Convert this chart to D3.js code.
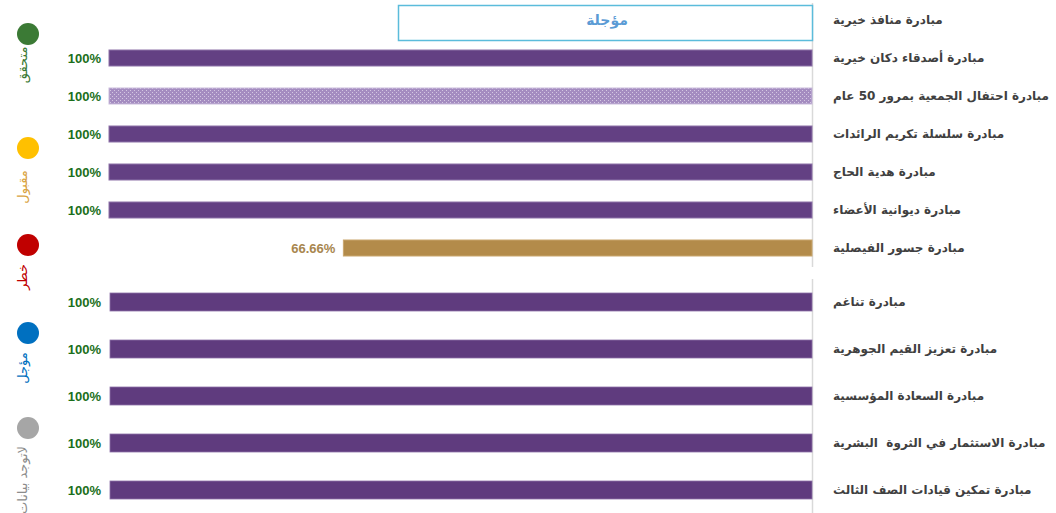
<!DOCTYPE html>
<html>
<head>
<meta charset="utf-8">
<script src="https://cdn.jsdelivr.net/npm/d3@7"></script>
<style>
  body { margin: 0; background: #fff; }
  svg { display: block; }
  .lbl { white-space: pre; }
</style>
</head>
<body>
<svg id="chart"></svg>
<script>
// chart data
var upperLabels = [
	'مبادرة منافذ خيرية',
	'مبادرة أصدقاء دكان خيرية',
	'مبادرة احتفال الجمعية بمرور 50 عام',
	'مبادرة سلسلة تكريم الرائدات',
	'مبادرة هدية الحاج',
	'مبادرة ديوانية الأعضاء',
	'مبادرة جسور الفيصلية'
];
var upperValues = [null, 1, 1, 1, 1, 1, 0.6666];
var upperStatus = ['postponed', 'done', 'done', 'done', 'done', 'done', 'acceptable'];
var upperValueText = ['', '100%', '100%', '100%', '100%', '100%', '66.66%'];

var lowerLabels = [
	'مبادرة تناغم',
	'مبادرة تعزيز القيم الجوهرية',
	'مبادرة السعادة المؤسسية',
	'مبادرة الاستثمار في الثروة  البشرية',
	'مبادرة تمكين قيادات الصف الثالث'
];
var lowerValues = [1, 1, 1, 1, 1];
var lowerValueText = ['100%', '100%', '100%', '100%', '100%'];

var legendNames = ['متحقق', 'مقبول', 'خطر', 'مؤجل', 'لاتوجد بيانات'];
var postponedText = 'مؤجلة';

// layout constants
var width = 1056,
	height = 513,
	axisX = 812,
	labelX = 833,
	arabicFont = '"DejaVu Sans", sans-serif',
	numFont = '"Liberation Sans", Arial, sans-serif';

var legendColors = ['#3b7a35', '#ffc000', '#c00000', '#0070c0', '#a6a6a6'];
var legendTextColors = ['#3b7a35', '#d9a343', '#c00000', '#0070c0', '#8c8c8c'];
var legendCircleY = [34, 148, 245, 333, 428];
var legendTextY = [65, 187, 277, 368, 480];

var svg = d3.select('#chart')
	.attr('width', width)
	.attr('height', height);

// dotted pattern for the lighter bar
var defs = svg.append('defs');
var pat = defs.append('pattern')
	.attr('id', 'dots')
	.attr('patternUnits', 'userSpaceOnUse')
	.attr('width', 4)
	.attr('height', 4);
pat.append('rect').attr('width', 4).attr('height', 4).attr('fill', '#a48cc0');
pat.append('rect').attr('x', 0).attr('y', 0).attr('width', 1).attr('height', 1).attr('fill', '#d4c7e2');
pat.append('rect').attr('x', 2).attr('y', 2).attr('width', 1).attr('height', 1).attr('fill', '#d4c7e2');

var barColor = {
	done: '#634083',
	acceptable: '#b38b4a'
};
var valueColor = {
	done: '#1b6f1b',
	acceptable: '#a8864e'
};

/* --- upper panel --- */
var xUp = d3.scaleLinear().domain([0, 1]).range([axisX, 109]);
var yUp = d3.scaleBand()
	.domain(d3.range(upperLabels.length))
	.range([1, 267])
	.paddingInner(0.56)
	.paddingOuter(0.28);

svg.append('line')
	.attr('x1', axisX + 0.5).attr('x2', axisX + 0.5)
	.attr('y1', 3).attr('y2', 267)
	.attr('stroke', '#d9d9d9')
	.attr('stroke-width', 1.5);

var upRows = svg.append('g').selectAll('g')
	.data(d3.range(upperLabels.length))
	.enter().append('g');

upRows.filter(function(i) { return upperValues[i] !== null; })
	.append('rect')
		.attr('x', function(i) { return xUp(upperValues[i]); })
		.attr('y', function(i) { return yUp(i) + yUp.bandwidth() / 2 - 8; })
		.attr('width', function(i) { return axisX - xUp(upperValues[i]); })
		.attr('height', 16)
		.attr('fill', function(i) { return i === 2 ? 'url(#dots)' : barColor[upperStatus[i]]; })
		.attr('stroke', function(i) { return i === 2 ? '#c9bbdb' : (upperStatus[i] === 'done' ? '#8d72a8' : '#c9a66d'); })
		.attr('stroke-width', 1);

upRows.filter(function(i) { return upperValues[i] !== null; })
	.append('text')
		.attr('x', function(i) { return xUp(upperValues[i]) - 8; })
		.attr('y', function(i) { return yUp(i) + yUp.bandwidth() / 2; })
		.attr('dy', '0.35em')
		.attr('text-anchor', 'end')
		.attr('font-family', numFont)
		.attr('font-weight', 'bold')
		.attr('font-size', 13)
		.attr('fill', function(i) { return valueColor[upperStatus[i]]; })
		.text(function(i) { return upperValueText[i]; });

// postponed box
upRows.filter(function(i) { return upperValues[i] === null; })
	.each(function(i) {
		var g = d3.select(this);
		var cy = yUp(i) + yUp.bandwidth() / 2;
		g.append('rect')
			.attr('x', 398.5)
			.attr('y', cy - 14.5)
			.attr('width', axisX - 398)
			.attr('height', 35)
			.attr('fill', '#fff')
			.attr('stroke', '#5bbcdb')
			.attr('stroke-width', 1.5);
		g.append('text')
			.attr('x', 607)
			.attr('y', cy)
			.attr('dy', '0.35em')
			.attr('text-anchor', 'middle')
			.attr('font-family', arabicFont)
			.attr('font-weight', 'bold')
			.attr('font-size', 14)
			.attr('fill', '#5b9bd5')
			.text(postponedText);
	});

upRows.append('text')
	.attr('class', 'lbl')
	.attr('x', labelX)
	.attr('y', function(i) { return yUp(i) + yUp.bandwidth() / 2; })
	.attr('dy', '0.35em')
	.attr('direction', 'rtl')
	.attr('text-anchor', 'end')
	.attr('font-family', arabicFont)
	.attr('font-weight', 'bold')
	.attr('font-size', 12)
	.attr('fill', '#404040')
	.text(function(i) { return upperLabels[i]; });

/* --- lower panel --- */
var xLow = d3.scaleLinear().domain([0, 1]).range([axisX, 110]);
var yLow = d3.scaleBand()
	.domain(d3.range(lowerLabels.length))
	.range([278.5, 513.5])
	.paddingInner(0.62)
	.paddingOuter(0.31);

svg.append('line')
	.attr('x1', axisX + 0.5).attr('x2', axisX + 0.5)
	.attr('y1', 279).attr('y2', height)
	.attr('stroke', '#d9d9d9')
	.attr('stroke-width', 1.5);

var lowRows = svg.append('g').selectAll('g')
	.data(d3.range(lowerLabels.length))
	.enter().append('g');

lowRows.append('rect')
	.attr('x', function(i) { return xLow(lowerValues[i]); })
	.attr('y', function(i) { return yLow(i) + yLow.bandwidth() / 2 - 9; })
	.attr('width', function(i) { return axisX - xLow(lowerValues[i]); })
	.attr('height', 18)
	.attr('fill', '#5f3b7e')
	.attr('stroke', '#8d72a8')
	.attr('stroke-width', 0.8);

lowRows.append('text')
	.attr('x', function(i) { return xLow(lowerValues[i]) - 9; })
	.attr('y', function(i) { return yLow(i) + yLow.bandwidth() / 2; })
	.attr('dy', '0.35em')
	.attr('text-anchor', 'end')
	.attr('font-family', numFont)
	.attr('font-weight', 'bold')
	.attr('font-size', 13)
	.attr('fill', valueColor.done)
	.text(function(i) { return lowerValueText[i]; });

lowRows.append('text')
	.attr('class', 'lbl')
	.attr('x', labelX)
	.attr('y', function(i) { return yLow(i) + yLow.bandwidth() / 2; })
	.attr('dy', '0.35em')
	.attr('direction', 'rtl')
	.attr('text-anchor', 'end')
	.attr('font-family', arabicFont)
	.attr('font-weight', 'bold')
	.attr('font-size', 12)
	.attr('fill', '#404040')
	.text(function(i) { return lowerLabels[i]; });

/* --- status legend on the left --- */
var legend = svg.append('g').selectAll('g')
	.data(legendNames)
	.enter().append('g');

legend.append('circle')
	.attr('cx', 28)
	.attr('cy', function(d, i) { return legendCircleY[i]; })
	.attr('r', 11)
	.attr('fill', function(d, i) { return legendColors[i]; });

legend.append('text')
	.attr('transform', function(d, i) {
		return 'translate(22,' + legendTextY[i] + ') rotate(-90)';
	})
	.attr('dy', '0.35em')
	.attr('text-anchor', 'middle')
	.attr('font-family', arabicFont)
	.attr('font-size', 13)
	.attr('fill', function(d, i) { return legendTextColors[i]; })
	.text(function(d) { return d; });
</script>
</body>
</html>
